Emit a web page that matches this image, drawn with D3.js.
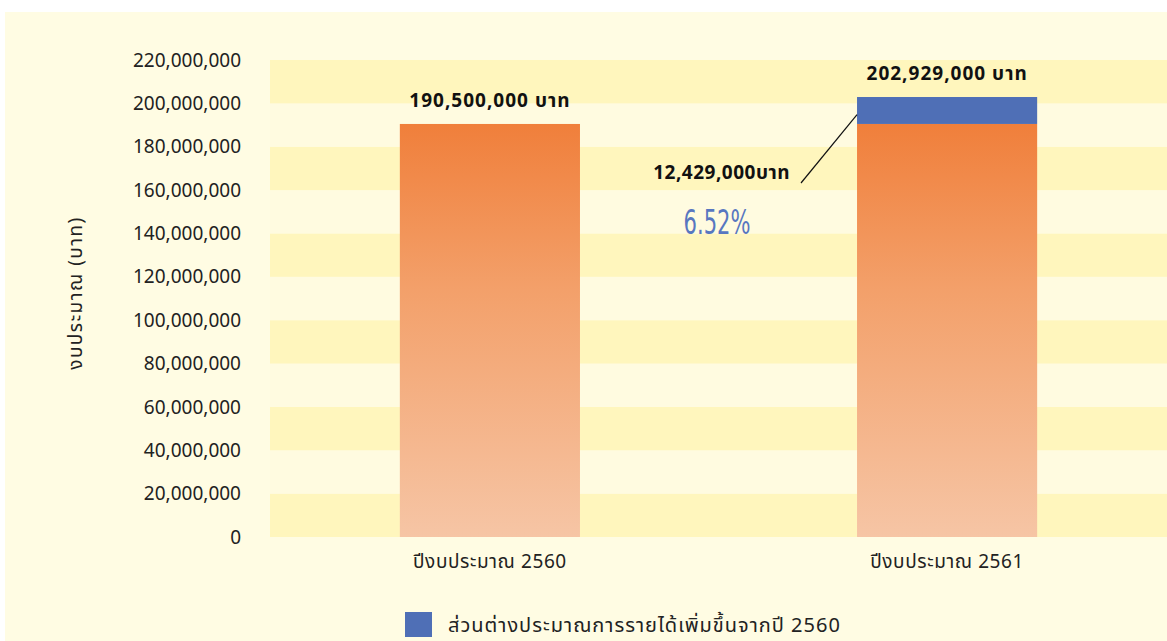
<!DOCTYPE html>
<html lang="th">
<head>
<meta charset="UTF-8">
<title>งบประมาณ</title>
<script src="https://d3js.org/d3.v7.min.js"></script>
<style>
  body { margin: 0; background: #fff; }
  text { font-family: Tahoma, "Noto Sans Thai", "Noto Sans", sans-serif; }
</style>
</head>
<body>
<svg id="main" width="1167" height="641"></svg>
<script>
    // data
    const years = ["ปีงบประมาณ 2560", "ปีงบประมาณ 2561"];
    const baseBudget = [190500000, 190500000];
    const increase = [0, 12429000];
    const totalLabels = ["190,500,000 บาท", "202,929,000 บาท"];
    const yTicks = d3.range(0, 220000001, 20000000);
    const diffLabel = "12,429,000บาท";
    const pctLabel = "6.52%";
    const legendLabel = "ส่วนต่างประมาณการรายได้เพิ่มขึ้นจากปี 2560";
    const yTitle = "งบประมาณ (บาท)";

    const data = years.map((y, i) => ({year: y, base: baseBudget[i], inc: increase[i]}));

    const svg = d3.select('svg#main');

    // cream panel
    svg.append('rect').attr('x', 5).attr('y', 12).attr('width', 1162).attr('height', 629)
        .attr('fill', '#fffce3');

    const x = d3.scaleBand().domain(years).range([270, 1167]).paddingInner(0.606).paddingOuter(0.284);
    const y = d3.scaleLinear().domain([0, 220000000]).range([537, 60]);

    // stripes between gridlines
    const bands = d3.range(0, 11);
    svg.append('g').selectAll('rect')
        .data(bands)
        .enter()
        .append('rect')
        .attr('x', 270)
        .attr('width', 897)
        .attr('y', d => y((d + 1) * 20000000))
        .attr('height', d => y(d * 20000000) - y((d + 1) * 20000000))
        .attr('fill', d => d % 2 === 0 ? '#fff6bd' : '#fffbe0');

    const defs = svg.append('defs');
    const grad = defs.append('linearGradient').attr('id', 'orangeGrad')
        .attr('x1', 0).attr('y1', 0).attr('x2', 0).attr('y2', 1);
    grad.append('stop').attr('offset', '0%').attr('stop-color', '#f07f3b');
    grad.append('stop').attr('offset', '40%').attr('stop-color', '#f3a06a');
    grad.append('stop').attr('offset', '100%').attr('stop-color', '#f6c5a5');

    const stack = d3.stack().keys(['base', 'inc']);
    const series = stack(data);
    const fills = ['url(#orangeGrad)', '#4f6fb6'];

    const groups = svg.selectAll('g.series')
        .data(series)
        .enter()
        .append('g')
        .attr('class', 'series')
        .style('fill', (d, i) => fills[i]);

    groups.selectAll('rect')
        .data(d => d)
        .enter()
        .append('rect')
        .attr('x', d => x(d.data.year))
        .attr('width', x.bandwidth())
        .attr('y', d => y(d[1]))
        .attr('height', d => y(d[0]) - y(d[1]));

    // y axis
    const yAxis = d3.axisLeft(y).tickValues(yTicks).tickFormat(d3.format(',')).tickSize(0).tickPadding(0);
    const yg = svg.append('g').attr('transform', 'translate(241,0)').call(yAxis);
    yg.select('.domain').remove();
    yg.selectAll('text').attr('font-size', 19).attr('fill', '#222')
        .style('font-family', 'Tahoma, "Noto Sans", sans-serif');

    // x axis
    const xAxis = d3.axisBottom(x).tickSize(0).tickPadding(0);
    const xg = svg.append('g').attr('transform', 'translate(0,557)').call(xAxis);
    xg.select('.domain').remove();
    xg.selectAll('text').attr('font-size', 19).attr('fill', '#222').attr('dy', '0.6em')
        .style('letter-spacing', '0.6px');

    // y title
    svg.append('text')
        .attr('transform', 'translate(82,293) rotate(-90)')
        .attr('text-anchor', 'middle')
        .attr('font-size', 19)
        .attr('fill', '#222')
        .style('letter-spacing', '1.5px')
        .text(yTitle);

    // total labels
    svg.append('g').selectAll('text')
        .data(data)
        .enter()
        .append('text')
        .attr('x', d => x(d.year) + x.bandwidth() / 2)
        .attr('y', d => y(d.base + d.inc) - 17)
        .attr('text-anchor', 'middle')
        .attr('font-size', 19)
        .attr('font-weight', 'bold')
        .attr('fill', '#111')
        .style('letter-spacing', '1px')
        .text((d, i) => totalLabels[i]);

    // difference annotation
    const d2 = data[1];
    const lx = x(d2.year);
    const ly = y(d2.base + d2.inc * 0.35);
    svg.append('line')
        .attr('x1', lx).attr('y1', ly)
        .attr('x2', 801).attr('y2', 183)
        .attr('stroke', '#111').attr('stroke-width', 1.2);
    svg.append('text')
        .attr('x', 790).attr('y', 179)
        .attr('text-anchor', 'end')
        .attr('font-size', 19)
        .attr('font-weight', 'bold')
        .attr('fill', '#111')
        .style('letter-spacing', '0.5px')
        .text(diffLabel);
    svg.append('text')
        .attr('transform', 'translate(717,234) scale(0.62,1)')
        .attr('text-anchor', 'middle')
        .attr('font-size', 34)
        .attr('fill', '#5877c0')
        .style('font-family', '"DejaVu Sans", sans-serif')
        .text(pctLabel);

    // legend
    svg.append('rect').attr('x', 405).attr('y', 612).attr('width', 27).attr('height', 25)
        .attr('fill', fills[1]);
    svg.append('text')
        .attr('x', 448).attr('y', 632)
        .attr('font-size', 20)
        .attr('fill', '#222')
        .style('letter-spacing', '1px')
        .text(legendLabel);
</script>
</body>
</html>
